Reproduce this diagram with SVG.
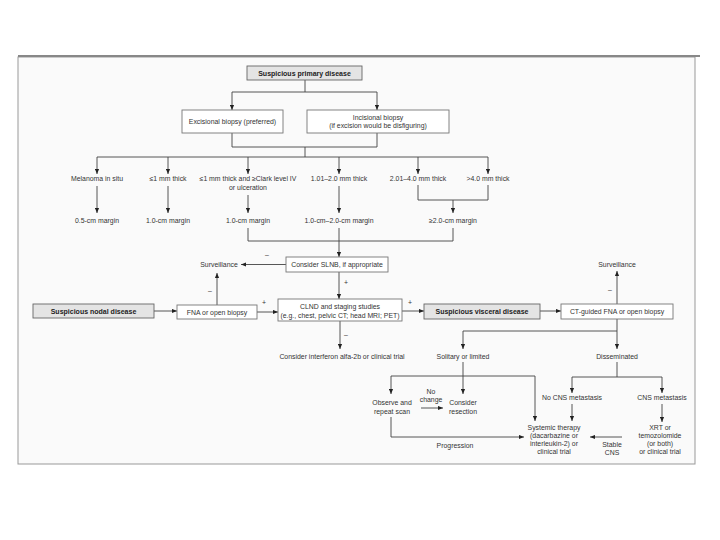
<svg xmlns="http://www.w3.org/2000/svg" width="720" height="540" viewBox="0 0 720 540">
<style>
text{font-family:"Liberation Sans","Open Sans",sans-serif;font-size:6.9px;fill:#333;text-anchor:middle}
.b{font-weight:bold;font-size:7px;fill:#222}
.box{fill:#fff;stroke:#777;stroke-width:0.9}
.gbox{fill:#e4e4e4;stroke:#666;stroke-width:0.9}
.c path{fill:none;stroke:#444;stroke-width:0.9}
.c path.a{marker-end:url(#ah)}
</style>
<defs>
<marker id="ah" viewBox="0 0 6 6" refX="6" refY="3" markerWidth="5" markerHeight="5" orient="auto" markerUnits="userSpaceOnUse">
<path d="M0,0.5 L6,3 L0,5.5 z" fill="#222"/>
</marker>
</defs>
<rect x="0" y="0" width="720" height="540" fill="#fff"/>
<rect x="18" y="57" width="677" height="407" fill="#fafafa" stroke="#999" stroke-width="1"/>
<line x1="18" y1="56" x2="700" y2="56" stroke="#888" stroke-width="2"/>

<g class="c" id="connectors">
<path d="M305,80 V92 M232,92 H377"/>
<path class="a" d="M232,92 V110"/>
<path class="a" d="M377,92 V110"/>
<path d="M232,133 V147 H377 M377,133 V147 M305,147 V157 M97,157 H488"/>
<path class="a" d="M97,157 V174"/>
<path class="a" d="M168,157 V174"/>
<path class="a" d="M248,157 V174"/>
<path class="a" d="M339,157 V174"/>
<path class="a" d="M418,157 V174"/>
<path class="a" d="M488,157 V174"/>
<path class="a" d="M97,186 V213"/>
<path class="a" d="M168,186 V213"/>
<path class="a" d="M248,195 V213"/>
<path class="a" d="M339,186 V213"/>
<path d="M418,185 V200 H488 V185"/>
<path class="a" d="M453,200 V213"/>
<path d="M248,228 V241 H453 V228"/>
<path class="a" d="M339,228 V257"/>
<path class="a" d="M286,264.5 H241"/>
<path class="a" d="M217,306 V273"/>
<path class="a" d="M339,272 V299"/>
<path class="a" d="M154,311 H177"/>
<path class="a" d="M257,312 H278"/>
<path class="a" d="M402,311 H424"/>
<path class="a" d="M540,311 H561"/>
<path class="a" d="M617,304 V271"/>
<path class="a" d="M340,321 V349"/>
<path class="a" d="M617,319 V349"/>
<path class="a" d="M617,331 H463 V349"/>
<path class="a" d="M463,362 V394"/>
<path d="M391,376 H535"/>
<path class="a" d="M391,376 V394"/>
<path class="a" d="M535,376 V421"/>
<path class="a" d="M421,408 H443"/>
<path class="a" d="M391,417 V437 H524"/>
<path d="M617,362 V377 M572,377 H662"/>
<path class="a" d="M572,377 V393"/>
<path class="a" d="M662,377 V393"/>
<path class="a" d="M572,404 V421"/>
<path class="a" d="M662,404 V422"/>
<path class="a" d="M622,437 H590"/>
</g>

<g id="primary"><rect class="gbox" x="247" y="66" width="115" height="14"/><text class="b" x="304.5" y="75.5">Suspicious primary disease</text></g>
<g id="excisional"><rect class="box" x="182" y="110" width="101" height="23"/><text x="232.5" y="124">Excisional biopsy (preferred)</text></g>
<g id="incisional"><rect class="box" x="307" y="110" width="142" height="23"/><text x="378" y="119.5">Incisional biopsy</text><text x="378" y="128">(if excision would be disfiguring)</text></g>

<g id="insitu"><text x="97" y="181">Melanoma in situ</text></g>
<g id="le1"><text x="168" y="181">≤1 mm thick</text></g>
<g id="le1clark"><text x="248" y="181">≤1 mm thick and ≥Clark level IV</text><text x="248" y="190">or ulceration</text></g>
<g id="t101"><text x="339" y="181">1.01–2.0 mm thick</text></g>
<g id="t201"><text x="418" y="181">2.01–4.0 mm thick</text></g>
<g id="t4"><text x="488" y="181">&gt;4.0 mm thick</text></g>

<g id="m05"><text x="97" y="223">0.5-cm margin</text></g>
<g id="m10a"><text x="168" y="223">1.0-cm margin</text></g>
<g id="m10b"><text x="248" y="223">1.0-cm margin</text></g>
<g id="m1020"><text x="339" y="223">1.0-cm–2.0-cm margin</text></g>
<g id="m20"><text x="453" y="223">≥2.0-cm margin</text></g>

<g id="slnb"><rect class="box" x="286" y="257" width="102" height="15"/><text x="337" y="267">Consider SLNB, if appropriate</text></g>
<g id="surv1"><text x="219" y="266.5">Surveillance</text></g>
<g id="nodal"><rect class="gbox" x="33" y="304" width="121" height="14"/><text class="b" x="93.5" y="313.5">Suspicious nodal disease</text></g>
<g id="fna"><rect class="box" x="177" y="305" width="80" height="14"/><text x="217" y="314.5">FNA or open biopsy</text></g>
<g id="clnd"><rect class="box" x="278" y="299" width="124" height="22"/><text x="340" y="308.5">CLND and staging studies</text><text x="340" y="317.5">(e.g., chest, pelvic CT; head MRI; PET)</text></g>
<g id="visceral"><rect class="gbox" x="424" y="304" width="116" height="15"/><text class="b" x="482" y="314">Suspicious visceral disease</text></g>
<g id="ctfna"><rect class="box" x="561" y="304" width="112" height="15"/><text x="617" y="314">CT-guided FNA or open biopsy</text></g>
<g id="surv2"><text x="617" y="266.5">Surveillance</text></g>
<g id="interferon"><text x="342" y="359">Consider interferon alfa-2b or clinical trial</text></g>
<g id="solitary"><text x="463" y="359">Solitary or limited</text></g>
<g id="dissem"><text x="617" y="359">Disseminated</text></g>
<g id="observe"><text x="392" y="405">Observe and</text><text x="392" y="413.5">repeat scan</text></g>
<g id="resection"><text x="463" y="405">Consider</text><text x="463" y="413.5">resection</text></g>
<g id="nocns"><text x="572" y="400">No CNS metastasis</text></g>
<g id="cns"><text x="662" y="400">CNS metastasis</text></g>
<g id="systemic"><text x="554" y="430">Systemic therapy</text><text x="554" y="438">(dacarbazine or</text><text x="554" y="446">interleukin-2) or</text><text x="554" y="454">clinical trial</text></g>
<g id="xrt"><text x="660" y="430">XRT or</text><text x="660" y="438">temozolomide</text><text x="660" y="446">(or both)</text><text x="660" y="454">or clinical trial</text></g>

<g id="labels">
<text x="267" y="257">–</text>
<text x="210" y="293">–</text>
<text x="346" y="285">+</text>
<text x="264" y="305">+</text>
<text x="410" y="305">+</text>
<text x="610" y="292">–</text>
<text x="346" y="337">–</text>
<text x="431" y="394">No</text>
<text x="431" y="402">change</text>
<text x="455" y="448">Progression</text>
<text x="612" y="447">Stable</text>
<text x="612" y="455">CNS</text>
</g>
</svg>
